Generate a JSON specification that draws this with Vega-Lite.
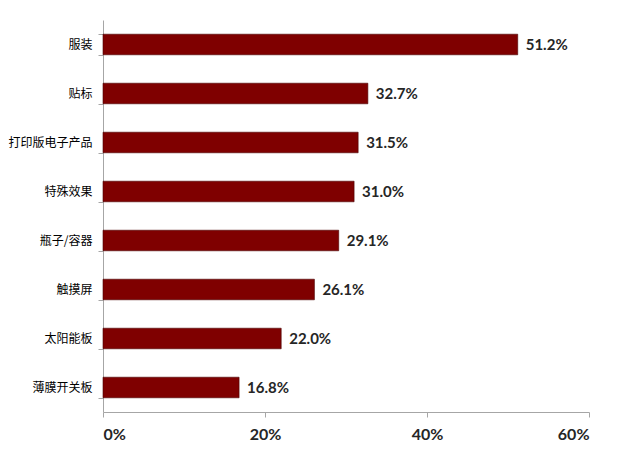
{
  "$schema": "https://vega.github.io/schema/vega-lite/v6.json",
  "width": 486,
  "height": 392,
  "autosize": {"type": "none"},
  "padding": {"left": 103, "top": 20, "right": 51, "bottom": 49},
  "background": "white",
  "data": {"values": [
    {"category": "服装", "value": 0.512},
    {"category": "贴标", "value": 0.327},
    {"category": "打印版电子产品", "value": 0.315},
    {"category": "特殊效果", "value": 0.310},
    {"category": "瓶子/容器", "value": 0.291},
    {"category": "触摸屏", "value": 0.261},
    {"category": "太阳能板", "value": 0.220},
    {"category": "薄膜开关板", "value": 0.168}
  ]},
  "config": {"view": {"stroke": null}},
  "encoding": {
    "y": {
      "field": "category", "type": "nominal", "sort": null,
      "scale": {"paddingInner": 0.58, "paddingOuter": 0.29},
      "axis": {
        "title": null, "domainColor": "#a6a6a6", "tickColor": "#a6a6a6",
        "tickBand": "extent", "tickSize": 5, "labelPadding": 6,
        "labelFont": "Noto Sans CJK SC", "labelFontSize": 12, "labelColor": "#000000"
      }
    },
    "x": {
      "field": "value", "type": "quantitative",
      "scale": {"domain": [0, 0.6]},
      "axis": {
        "title": null, "values": [0, 0.2, 0.4, 0.6], "format": ".0%", "grid": false,
        "domainColor": "#a6a6a6", "tickColor": "#a6a6a6", "tickSize": 5, "labelPadding": 9,
        "labelFont": "Lato", "labelFontWeight": "bold", "labelFontSize": 16, "labelColor": "#262626"
      }
    }
  },
  "layer": [
    {"mark": {"type": "bar", "color": "#7f0000", "stroke": "#4a0000", "strokeWidth": 0.6}},
    {"mark": {"type": "text", "align": "left", "baseline": "middle", "dx": 8, "font": "Lato", "fontWeight": "bold", "fontSize": 15, "color": "#262626"},
     "encoding": {"text": {"field": "value", "format": ".1%"}}}
  ]
}
